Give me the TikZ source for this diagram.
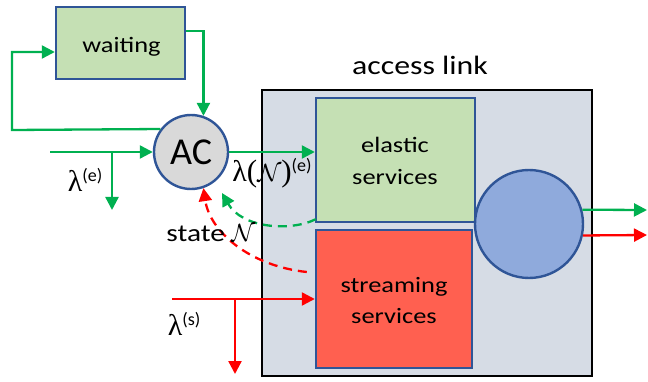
\documentclass[tikz,border=0pt]{standalone}
\usepackage{fontspec}
\setmainfont{Carlito}
\newfontfamily\wide[FakeStretch=1.2]{Carlito}
\newfontfamily\grk{Liberation Serif}
\usetikzlibrary{arrows.meta,calc}
\definecolor{flowgreen}{HTML}{00B050}
\definecolor{flowred}{HTML}{FF0000}
\definecolor{boxgreen}{HTML}{C5E0B4}
\definecolor{edgeblue}{HTML}{2F5597}
\definecolor{streamfill}{HTML}{FF6050}
\definecolor{linkfill}{HTML}{D6DCE5}
\definecolor{acfill}{HTML}{D9D9D9}
\definecolor{serverfill}{HTML}{8FAADC}
\newcommand{\lam}{{\grk\fontsize{30}{30}\selectfont λ}}
\newcommand{\bigparen}[1]{{\grk\fontsize{31}{31}\selectfont #1}}
\newcommand{\supx}[1]{\raisebox{10pt}{\fontsize{18}{18}\selectfont(#1)}}
\begin{document}
\begin{tikzpicture}[x=1pt,y=-1pt,
  box/.style={draw=edgeblue, line width=2.4pt, inner sep=0pt},
  gline/.style={draw=flowgreen, line width=2.3pt},
  rline/.style={draw=flowred, line width=2.3pt},
  tip/.style={-{Triangle[length=13pt,width=13pt]}},
  gdash/.style={gline, dash pattern=on 9pt off 6pt},
  rdash/.style={rline, dash pattern=on 9pt off 6pt},
  txt/.style={inner sep=0pt, anchor=base, font=\wide\fontsize{22}{26}\selectfont}]
\useasboundingbox (0,0) rectangle (648,382);

% access link and its contents
\node[draw=black, fill=linkfill, line width=1.6pt, minimum width=330pt, minimum height=286pt, inner sep=0pt] (link) at (427,233) {};
\node[box, fill=boxgreen, minimum width=159pt, minimum height=124pt] (elastic) at (395.5,160) {};
\node[box, fill=streamfill, minimum width=156pt, minimum height=138pt] (stream) at (394,299) {};
\node[box, circle, fill=serverfill, minimum size=108pt] (server) at (529,224) {};
\node[txt] (elastic1) at (395,153) {elastic};
\node[txt] (elastic2) at (395,185) {services};
\node[txt] (stream1) at (394,292) {streaming};
\node[txt] (stream2) at (394,323) {services};
\node[txt, font=\wide\fontsize{26.5}{30}\selectfont] (linklabel) at (420,75) {access link};

% admission control and waiting room
\node[box, fill=boxgreen, minimum width=129pt, minimum height=72pt] (wait) at (120.5,43) {};
\node[txt] (waittext) at (121.5,53) {waiting};
\node[box, circle, fill=acfill, minimum size=74pt, font=\fontsize{38}{40}\selectfont] (ac) at (191,152) {AC};

% feedback loop through the waiting room
\draw[gline, tip] (ac.143.5) -- (12,130) -- (12,52) -- ($(wait.west)+(0,9)$);
\draw[gline, tip] ($(wait.east)+(0,-12)$) -| (ac.71);

% elastic arrivals
\coordinate (ein) at (50,152);
\coordinate (ebranch) at (112,152);
\coordinate (edrop) at (112,210);
\draw[gline, tip] (ein) -- (ac.west);
\draw[gline, tip] (ebranch) -- (edrop);
\draw[gline, tip] (ac.east) -- (elastic.west |- ac.east);

% streaming arrivals
\coordinate (sin) at (172,299);
\coordinate (sbranch) at (235,299);
\coordinate (sdrop) at (235,374);
\draw[rline, tip] (sin) -- (stream.west);
\draw[rline, tip] (sbranch) -- (sdrop);

% outputs of the link
\coordinate (gout) at (647,210);
\coordinate (rout) at (647,235);
\draw[gline, tip] (server.15) -- (gout);
\draw[rline, tip] (server.-12) -- (rout);

% state feedback to admission control
\coordinate (gfb) at (222,193);
\draw[gdash, tip] ($(elastic.south west)+(1,-4)$) .. controls (290,232) and (242,228) .. (gfb);
\draw[rdash, tip] ($(stream.west)+(-8,-27)$) .. controls (250,266) and (210,232) .. (ac.-71);

% rate and state labels
\node[inner sep=0pt, anchor=base] (le) at (85,192) {\lam\supx{e}};
\node[inner sep=0pt, anchor=base, font=\fontsize{28}{30}\selectfont] (lae) at (272,182) {\lam\bigparen{(}$\mathcal{N}$\bigparen{)}\supx{e}};
\node[txt, font=\fontsize{28}{30}\selectfont] (st) at (211,242) {{\wide\fontsize{24.5}{28}\selectfont state} $\mathcal{N}$};
\node[inner sep=0pt, anchor=base] (ls) at (184,335) {\lam\supx{s}};
\end{tikzpicture}
\end{document}
